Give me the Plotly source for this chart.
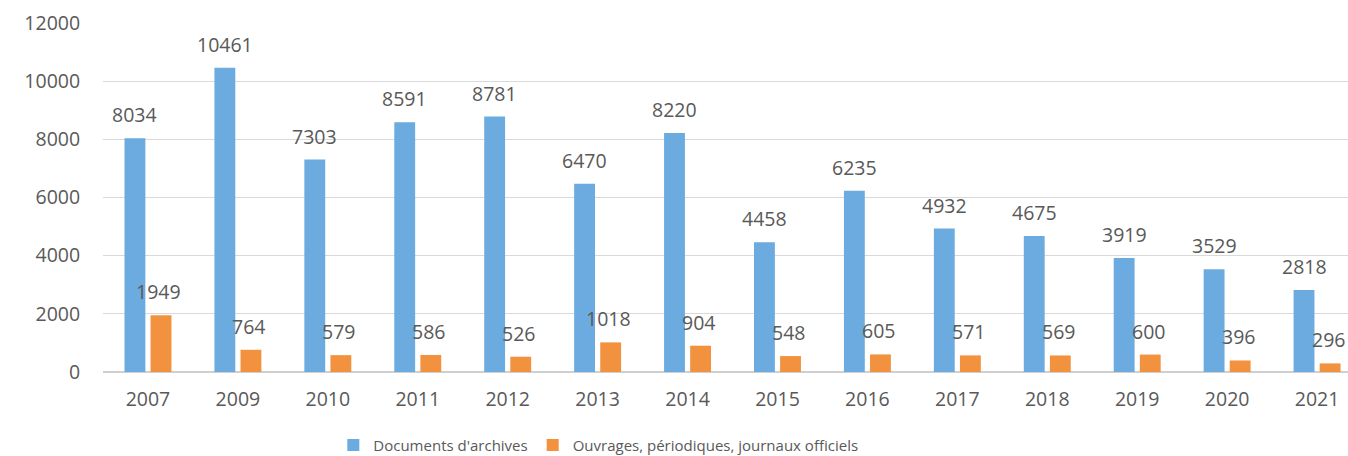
import plotly.graph_objects as go

years = ["2007", "2009", "2010", "2011", "2012", "2013", "2014",
         "2015", "2016", "2017", "2018", "2019", "2020", "2021"]
archives = [8034, 10461, 7303, 8591, 8781, 6470, 8220,
            4458, 6235, 4932, 4675, 3919, 3529, 2818]
ouvrages = [1949, 764, 579, 586, 526, 1018, 904,
            548, 605, 571, 569, 600, 396, 296]
y_ticks = [0, 2000, 4000, 6000, 8000, 10000, 12000]

name_a = "Documents d'archives"
name_b = "Ouvrages, périodiques, journaux officiels"
col_a = "#6CABDF"
col_b = "#F2923F"
txt = "#595959"
font_family = "Open Sans, Noto Sans, sans-serif"
fs = 19.5

fig = go.Figure()
fig.add_trace(go.Bar(x=years, y=archives, name=name_a, marker_color=col_a,
                     marker_line_width=0))
fig.add_trace(go.Bar(x=years, y=ouvrages, name=name_b, marker_color=col_b,
                     marker_line_width=0))

annotations = []
for i, (a, b) in enumerate(zip(archives, ouvrages)):
    annotations.append(dict(x=i, y=a, xref="x", yref="y", text=str(a),
                            showarrow=False, xanchor="center", yanchor="bottom",
                            xshift=-13, yshift=8,
                            font=dict(size=fs, color=txt, family=font_family)))
    annotations.append(dict(x=i, y=b, xref="x", yref="y", text=str(b),
                            showarrow=False, xanchor="center", yanchor="bottom",
                            xshift=11, yshift=8,
                            font=dict(size=fs, color=txt, family=font_family)))

fig.update_layout(
    width=1348, height=456,
    margin=dict(l=103, r=0, t=23, b=84, autoexpand=False),
    paper_bgcolor="white", plot_bgcolor="white",
    barmode="group", bargap=0.42, bargroupgap=0.2,
    font=dict(family=font_family, color=txt, size=fs),
    annotations=annotations,
    showlegend=True,
    legend=dict(orientation="h", x=0.185, xanchor="left",
                y=-0.21, yanchor="middle",
                font=dict(size=15, color=txt, family=font_family),
                itemwidth=30, traceorder="normal"),
    xaxis=dict(type="category", range=[-0.5, 13.344], showgrid=False,
               showline=False, zeroline=False, automargin=False,
               ticks="outside", ticklen=10, tickcolor="rgba(0,0,0,0)",
               tickfont=dict(size=fs, color=txt)),
    yaxis=dict(range=[0, 12000], tickvals=y_ticks,
               ticktext=[str(v) for v in y_ticks], showgrid=True,
               gridcolor="#D9D9D9", gridwidth=1, automargin=False,
               zeroline=True, zerolinecolor="#CFCFCF", zerolinewidth=1.5,
               showline=False,
               ticks="outside", ticklen=18, tickcolor="rgba(0,0,0,0)",
               tickfont=dict(size=fs, color=txt)),
)

fig.write_html("out.html",
               config={"displayModeBar": False},
               post_script="document.body.style.margin='0';"
                           "document.body.style.overflow='hidden';")
